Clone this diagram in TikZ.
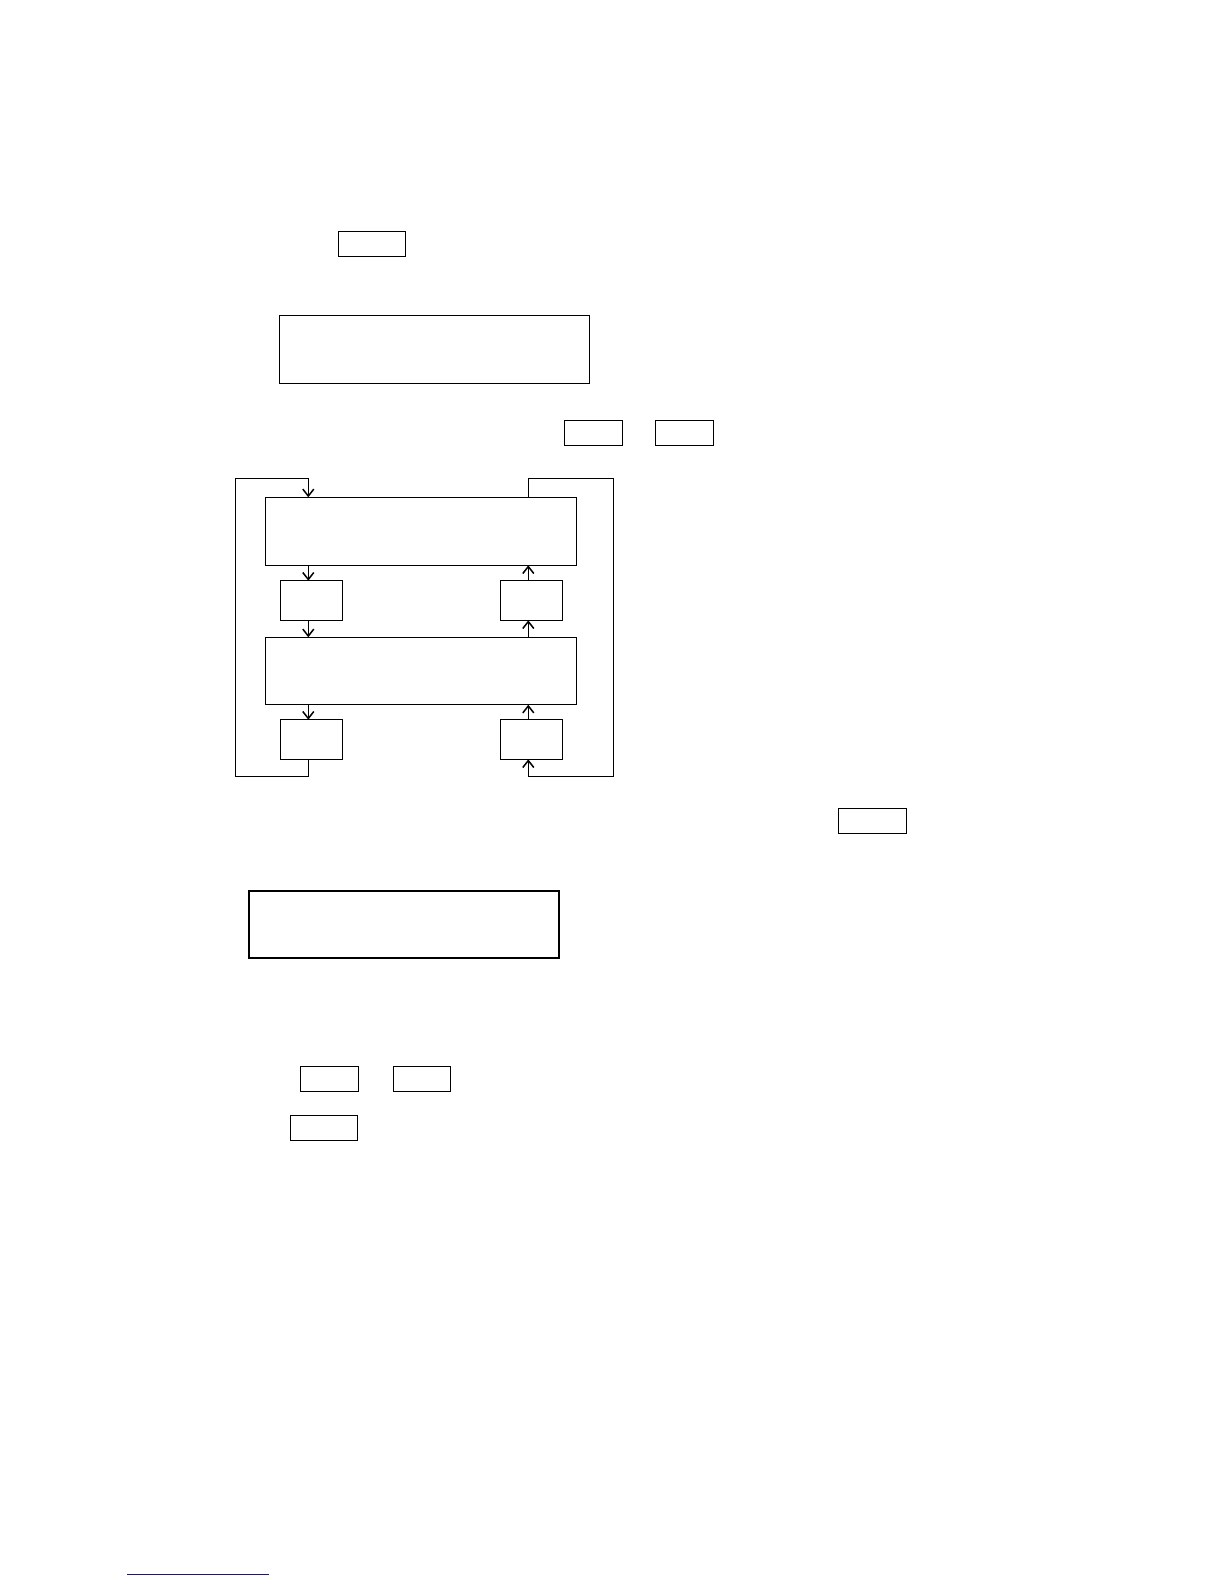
\documentclass[tikz,border=0pt]{standalone}
\usetikzlibrary{arrows.meta}
\definecolor{linkblue}{RGB}{20,20,140}
\begin{document}
\begin{tikzpicture}[x=1pt,y=-1pt,
  box/.style={draw=black,line width=1pt,inner sep=0pt,outer sep=0pt,fill=none},
  heavybox/.style={box,line width=1.5pt},
  arr/.style={line width=1pt,-{Straight Barb[length=7pt,width=11pt,line width=1.5pt]}},
  wire/.style={line width=1pt}]
\useasboundingbox (0,0) rectangle (1224,1584);
% top boxes
\node[box,minimum width=67pt,minimum height=25pt] (a) at (371.5,243.5) {};
\node[box,minimum width=310pt,minimum height=68pt] (b) at (434,349) {};
\node[box,minimum width=58pt,minimum height=25pt] (p1) at (593,432.5) {};
\node[box,minimum width=58pt,minimum height=25pt] (p2) at (684,432.5) {};
% loop diagram
\node[heavybox,minimum width=310.6pt,minimum height=68pt] (c) at (421,531.3) {};
\node[heavybox,minimum width=310.6pt,minimum height=67.4pt] (e) at (421,671) {};
\node[heavybox,minimum width=62pt,minimum height=39.6pt] (d1) at (311.3,600.5) {};
\node[heavybox,minimum width=62pt,minimum height=39.6pt] (d2) at (531.3,600.5) {};
\node[heavybox,minimum width=62pt,minimum height=39.6pt] (d3) at (311.3,739.5) {};
\node[heavybox,minimum width=62pt,minimum height=39.6pt] (d4) at (531.3,739.5) {};
\coordinate (lx) at (308.3,0);
\coordinate (rx) at (528.3,0);
\coordinate (lt) at (308.3,478.7);
\coordinate (lto) at (235.3,478.7);
\coordinate (lbo) at (235.3,776.3);
\coordinate (lb) at (308.3,776.3);
\coordinate (rt) at (528.3,478.7);
\coordinate (rto) at (613.7,478.7);
\coordinate (rbo) at (613.7,776.3);
\coordinate (rb) at (528.3,776.3);
\draw[arr] (c.south -| lx) -- (d1.north -| lx);
\draw[arr] (d1.south -| lx) -- (e.north -| lx);
\draw[arr] (e.south -| lx) -- (d3.north -| lx);
\draw[arr] (d3.south -| lx) -- (lb) -- (lbo) -- (lto) -- (lt) -- (c.north -| lx);
\draw[arr] (d2.north -| rx) -- (c.south -| rx);
\draw[arr] (e.north -| rx) -- (d2.south -| rx);
\draw[arr] (d4.north -| rx) -- (e.south -| rx);
\draw[arr] (c.north -| rx) -- (rt) -- (rto) -- (rbo) -- (rb) -- (d4.south -| rx);
% lower boxes
\node[box,minimum width=68pt,minimum height=25pt] (f) at (872,820.5) {};
\node[heavybox,minimum width=310pt,minimum height=67pt] (g) at (404,924.5) {};
\node[box,minimum width=58.4pt,minimum height=25pt] (h1) at (329.5,1078.8) {};
\node[box,minimum width=57.4pt,minimum height=25pt] (h2) at (422,1078.8) {};
\node[box,minimum width=67.4pt,minimum height=25pt] (h3) at (324,1127.8) {};
% footnote rule
\coordinate (r1) at (127,1574.7);
\coordinate (r2) at (268.7,1574.7);
\draw[linkblue,line width=1.2pt] (r1) -- (r2);
\end{tikzpicture}
\end{document}
